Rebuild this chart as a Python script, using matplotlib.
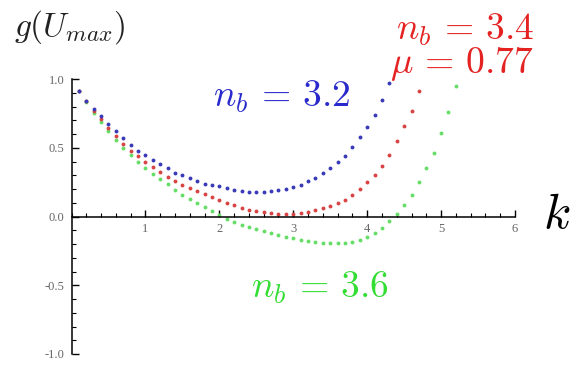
import numpy as np
import matplotlib
matplotlib.use("Agg")
import matplotlib.pyplot as plt
from matplotlib.ticker import MultipleLocator

plt.rcParams['mathtext.fontset'] = 'cm'

# k grid (step 0.1)
k = [0.1, 0.2, 0.3, 0.4, 0.5, 0.6, 0.7, 0.8, 0.9, 1.0,
     1.1, 1.2, 1.3, 1.4, 1.5, 1.6, 1.7, 1.8, 1.9, 2.0,
     2.1, 2.2, 2.3, 2.4, 2.5, 2.6, 2.7, 2.8, 2.9, 3.0,
     3.1, 3.2, 3.3, 3.4, 3.5, 3.6, 3.7, 3.8, 3.9, 4.0,
     4.1, 4.2, 4.3, 4.4, 4.5, 4.6, 4.7, 4.8, 4.9, 5.0,
     5.1, 5.2]

# n_b = 3.2
g_blue = [0.91, 0.84, 0.78, 0.73, 0.67, 0.62, 0.57, 0.52, 0.48, 0.45,
          0.41, 0.38, 0.35, 0.32, 0.30, 0.28, 0.26, 0.24, 0.23, 0.22,
          0.205, 0.195, 0.187, 0.18, 0.178, 0.178, 0.183, 0.19, 0.20, 0.215,
          0.23, 0.255, 0.28, 0.315, 0.35, 0.395, 0.44, 0.505, 0.575, 0.65,
          0.74, 0.85, 0.97]

# n_b = 3.4, mu = 0.77
g_red = [0.91, 0.84, 0.77, 0.71, 0.645, 0.585, 0.53, 0.48, 0.44, 0.40,
         0.36, 0.325, 0.29, 0.26, 0.23, 0.205, 0.185, 0.165, 0.14, 0.12,
         0.10, 0.082, 0.065, 0.05, 0.038, 0.03, 0.024, 0.019, 0.017, 0.017,
         0.022, 0.032, 0.045, 0.06, 0.075, 0.095, 0.12, 0.16, 0.20, 0.25,
         0.30, 0.37, 0.45, 0.55, 0.66, 0.77, 0.91]

# n_b = 3.6
g_green = [0.91, 0.835, 0.755, 0.69, 0.62, 0.56, 0.50, 0.45, 0.40, 0.355,
           0.31, 0.27, 0.235, 0.195, 0.16, 0.13, 0.10, 0.07, 0.04, 0.012,
           -0.015, -0.04, -0.06, -0.075, -0.09, -0.105, -0.12, -0.134, -0.146, -0.158,
           -0.17, -0.18, -0.187, -0.192, -0.195, -0.195, -0.19, -0.183, -0.17, -0.15,
           -0.12, -0.08, -0.03, 0.02, 0.085, 0.16, 0.25, 0.35, 0.46, 0.61,
           0.76, 0.95]

W, H = 571, 365
fig = plt.figure(figsize=(W / 100, H / 100), dpi=100)
ax = fig.add_axes([71.5 / W, 11 / H, (515 - 71.5) / W, (354 - 79) / H])

ax.plot(k[:len(g_green)], g_green, 'o', ms=2.8, mew=0, color='#66dd66')
ax.plot(k[:len(g_red)], g_red, 'o', ms=2.8, mew=0, color='#d84444')
ax.plot(k[:len(g_blue)], g_blue, 'o', ms=2.8, mew=0, color='#3a3ab8')

ax.set_xlim(0, 6)
ax.set_ylim(-1, 1)
ax.spines['left'].set_position(('data', 0))
ax.spines['bottom'].set_position(('data', 0))
ax.spines['top'].set_visible(False)
ax.spines['right'].set_visible(False)
for s in ['left', 'bottom']:
    ax.spines[s].set_linewidth(1.1)

ax.xaxis.set_minor_locator(MultipleLocator(0.2))
ax.yaxis.set_minor_locator(MultipleLocator(0.1))
ax.set_xticks([1, 2, 3, 4, 5, 6])
ax.set_xticklabels(['1', '2', '3', '4', '5', '6'])
ax.set_yticks([-1, -0.5, 0, 0.5, 1])
ax.set_yticklabels(['-1.0', '-0.5', '0.0', '0.5', '1.0'])
ax.tick_params(which='major', direction='in', length=5, width=1, labelsize=9,
               labelcolor='#666666', pad=5, labelfontfamily='Liberation Serif')
ax.tick_params(which='minor', direction='in', length=3, width=0.8)
ax.patch.set_alpha(0)

# labels
def ftext(x, y, s, **kw):
    fig.text(x / W, 1 - y / H, s, ha='center', va='center', **kw)

ftext(70, 27, r'$g(U_{max})$', fontsize=24, color='#222222')
ftext(557, 214, r'$k$', fontsize=36, color='black')
ftext(282, 97, r'$n_b\,=\,3.2$', fontsize=27, color='#2a2acc')
ftext(465, 30, r'$n_b\,=\,3.4$', fontsize=27, color='#e52222')
ftext(462, 64, r'$\mu\,=\,0.77$', fontsize=27, color='#e52222')
ftext(320, 288, r'$n_b\,=\,3.6$', fontsize=27, color='#33dd33')

fig.savefig('out.png', dpi=100)
